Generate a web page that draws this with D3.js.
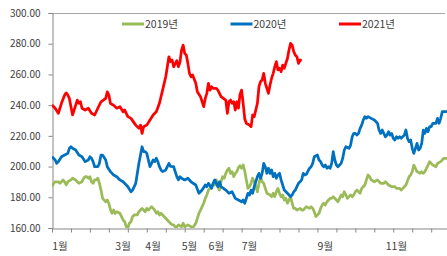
<!DOCTYPE html>
<html>
<head>
<meta charset="utf-8">
<script src="https://cdn.jsdelivr.net/npm/d3@7/dist/d3.min.js"></script>
<style>
  body { margin: 0; background: #fff; }
  svg text { font-family: "Noto Sans CJK KR", "Noto Sans", sans-serif; fill: #404040; }
</style>
</head>
<body>
<svg id="chart"></svg>
<script>
// trading-day index (0..250) and price values
let days2019 = [0,1,2,4,5,6,7,8,9,10,12,13,15,16,17,19,20,21,22,23,24,25,26,27,28,29,30,31,32,34,35,36,37,38,39,40,41,43,44,45,46,47,48,49,50,51,52,54,55,56,57,58,59,60,61,62,63,64,65,66,67,68,69,70,73,74,75,76,77,78,79,80,82,83,84,86,88,89,91,92,93,94,95,96,97,98,99,100,101,102,103,104,105,106,107,108,109,110,111,112,113,114,115,116,117,118,119,120,121,122,123,124,125,126,127,128,129,130,131,132,133,134,135,136,138,139,140,141,142,143,144,145,146,147,148,149,150,151,152,153,154,155,157,158,159,161,163,164,165,166,167,169,170,171,172,173,174,175,176,177,178,179,180,181,182,183,184,185,186,187,188,189,190,191,192,193,195,196,197,198,199,200,201,202,204,206,208,210,211,213,215,217,218,220,221,224,226,227,228,229,230,231,233,234,235,236,237,238,239,240,241,243,244,246,247,248,250];
let vals2019 = [186.9,189.1,190.1,190.1,189.1,190.1,191.3,190.1,188,190.1,191.3,192.4,191.3,190.1,189.1,190.1,192.4,193.4,193.4,192.4,193.4,190.1,189.1,191.3,191.3,192.4,189.1,184.7,179.3,177.1,178.2,176.1,172,169.6,171.7,169.5,170.6,169.6,167.4,165.2,164.1,160.8,160,163.1,164.1,167.4,168.5,168.5,170.6,171.7,172.8,171.7,170.6,172.8,171.7,172.8,173.9,172.8,171.7,169.6,170.6,168.5,169.6,168.5,165.2,164.1,163.1,162,162,160.8,160.8,162,160.8,163.1,160.8,162,160.8,160,163.1,166.3,169.6,171.7,173.9,176.1,179.3,181.5,184.7,185.8,186.9,189.1,188,191.3,186.9,184.7,190.1,193.4,192.4,195.6,197.8,198.9,195.6,196.7,193.4,195.6,196.7,199.4,200.5,198.9,201,197,191.3,185.8,186.9,189.1,192.4,190.1,186.9,183.6,189.1,193.4,190.1,189.1,185.8,182.6,181.5,180.4,182.6,180.4,183.6,185.8,182.6,180.4,181.5,178.2,179.3,176.1,178.2,180.4,176.1,172.8,172.8,171.7,172.8,171.7,171.7,173.9,172.8,173.9,172.8,170.6,167.4,169.6,172.8,175,176.1,175,177.1,178.2,179.3,179.3,180.4,179.3,178.2,177.1,179.3,181.5,180.4,183.6,181.5,179.3,180.4,181.5,180.4,181.5,183.6,184.7,182.6,185.8,186.9,188,191.3,194.5,193.4,191.3,190.1,191.3,189.1,189.1,190.1,188,186.9,186.9,185.8,185.8,184.7,188,193.4,194.5,196.7,201,198.9,196.7,195.6,196.7,195.6,196.7,198.9,201,203.2,202.1,201,199.9,202.1,203.2,204.3,205.4,205.4];

let days2020 = [0,2,3,4,6,8,10,11,12,13,15,17,19,21,23,24,25,26,27,29,30,31,32,34,35,37,39,41,43,45,47,48,50,51,53,54,55,56,57,58,59,60,62,63,64,65,66,67,68,69,70,72,74,75,77,79,80,81,82,84,86,88,91,93,95,97,98,99,101,102,103,105,106,107,110,112,114,116,118,120,121,122,123,124,125,126,127,128,130,131,132,133,134,135,136,137,138,139,140,141,142,143,144,145,146,147,149,150,151,152,153,154,155,156,157,158,159,160,161,162,163,164,165,166,168,169,170,171,172,173,174,175,176,177,178,179,180,181,182,183,184,185,186,188,189,190,191,192,193,194,195,196,197,198,199,200,202,204,206,207,208,209,210,211,212,213,214,215,216,217,218,219,220,221,223,224,225,226,227,228,229,230,231,232,233,234,235,236,237,238,239,240,241,243,244,245,246,247,249,250];
let vals2020 = [206.4,204.3,202.1,203.2,206.4,207.5,208.6,211.9,212.9,211.9,210.8,207.5,206.4,203.2,204.3,206.4,205.4,203.2,199.9,199.9,202.1,207.5,207.5,204.3,199.9,196.7,194.5,193.4,191.3,190.1,188,186.9,183.6,184.7,189.1,195.6,202.1,207.5,212.9,209.7,209.7,208.6,199.9,202.1,204.3,203.2,205.4,203.2,199.9,197.8,196.7,197.8,202.1,200.1,199.9,193.4,191.3,193.4,192.4,191.3,192.4,190.1,188,182.6,184.7,188,186.9,189.1,185.8,189.1,191.3,186.9,190.1,186.9,184.7,182.6,183.6,179.3,178.2,177.1,178.2,176.1,179.3,182.6,181.5,184.7,182.6,186.9,193.4,195.6,192.4,195.6,202.1,199.9,195.6,198.9,195.6,197.8,193.4,195.6,192.4,194.5,195.6,191.3,188,184.7,182.6,181.5,180.4,181.5,183.6,184.7,186.9,189.1,190.1,191.3,195.6,194.5,195,197,198.9,199.9,202.1,206.4,207.5,204.3,203.2,201,199.9,201,198.9,199.9,198.9,202.1,209.7,204.3,201,199.9,201,202.1,205.4,210.8,212.9,211.9,214,219.4,221.6,221.6,220.5,221.6,224.9,227,230.3,232.5,231.4,232.5,231.4,230.3,228.2,223.8,221.6,223.8,221.6,219.4,220.5,222.7,220.5,221.6,218.4,217.3,219.4,218.4,219.4,218.4,220.5,223.8,218.4,216.2,217.3,211.9,208.6,211.9,215.1,210.8,211.9,215.1,223.8,221.6,224.9,222.7,226,226,228.2,228.2,231.4,228.2,231.4,235.7,235.7,236];

let days2021 = [0,2,4,6,8,9,10,11,13,16,17,18,19,21,23,25,27,29,31,34,35,36,37,39,40,41,43,45,46,48,50,53,55,56,57,58,60,62,64,66,68,70,72,73,74,75,76,77,78,79,80,81,82,83,84,85,86,87,88,89,91,92,94,96,97,98,99,100,101,102,104,105,107,110,111,112,113,114,115,116,117,118,119,120,121,122,123,125,126,127,128,130,131,132,133,134,135,136,137,138,139,140,141,142,143,144,145,146,147,149,150,151,152,153,154,155,156,157,158];
let vals2021 = [240.1,238,234.7,241.2,246.6,248,246.6,244.4,233.6,243.3,241.2,242.2,238,236.8,238,234.7,233.6,238,242.2,244.4,248.7,246.6,241,240,239,238,239,235.7,236.8,232.5,231.4,227,224.9,227,221.6,226,227,230.3,233.6,235.7,241.2,249.8,258.5,265,271.5,268.3,269.4,265,267,269,265,268,276,279.1,273.7,272.6,267.2,260.7,258.5,259.6,254.2,248.7,245.5,239,244.4,247.7,254.2,249.8,252,250.9,250.9,249.8,245.5,243.3,234.7,242.2,243.3,241.2,242.2,236.8,242.2,238,247,249.8,241,231,228.2,227,226,233.6,232.5,241.2,252,255.3,256.4,260.7,254.2,250.9,247.7,253.1,257.5,260.7,265,268.3,262.9,264,261.8,266.1,264,270.4,275.9,280.2,279.1,274.8,272.6,271.5,267.2,269.4,268.8];

let seriesNames = ["2019년", "2020년", "2021년"];
let seriesColors = ["#9bbb59", "#0070c0", "#ff0000"];
let yTicks = [160, 180, 200, 220, 240, 260, 280, 300];
let monthLabels = ["1월", "3월", "4월", "5월", "6월", "7월", "9월", "11월"];
let monthDays = [5, 45, 64, 87, 104, 125, 173, 218];

let w = 447, h = 256;
let padL = 52, padR = 447, padT = 13, padB = 228;

let svg = d3.select('#chart')
    .attr('width', w)
    .attr('height', h);

let x = d3.scaleLinear().domain([0, 250]).range([padL, padR]);
let y = d3.scaleLinear().domain([160, 300]).range([padB, padT]);

// plot area top border
svg.append('line')
    .attr('x1', padL).attr('x2', padR - 2)
    .attr('y1', y(300) + 0.5).attr('y2', y(300) + 0.5)
    .attr('stroke', '#a6a6a6');

let yAxis = svg.append('g')
    .attr('transform', `translate(${padL + 0.5},0)`)
    .call(d3.axisLeft(y).tickValues(yTicks).tickFormat(d3.format('.2f')).tickSize(4).tickPadding(8));
yAxis.selectAll('line, path').attr('stroke', '#868686');
yAxis.selectAll('text').style('font-size', '10px').attr('fill', '#404040');

let xAxis = svg.append('g')
    .attr('transform', `translate(0,${padB + 0.5})`)
    .call(d3.axisBottom(x).tickValues(d3.range(0, 251, 12)).tickFormat('').tickSize(4).tickSizeOuter(0));
xAxis.selectAll('line, path').attr('stroke', '#868686');

svg.selectAll('text.month')
    .data(monthLabels)
    .enter()
    .append('text')
    .attr('class', 'month')
    .attr('x', (d, i) => x(monthDays[i]))
    .attr('y', 250)
    .attr('text-anchor', 'middle')
    .style('font-size', '10.5px')
    .text(d => d);

svg.append('clipPath').attr('id', 'plotclip')
    .append('rect')
    .attr('x', padL).attr('y', padT).attr('width', padR - padL).attr('height', padB - padT);

let allDays = [days2019, days2020, days2021];
let allVals = [vals2019, vals2020, vals2021];

let line = d3.line()
    .x(d => x(d[0]))
    .y(d => y(d[1]));

allDays.forEach((ds, i) => {
    let pts = ds.map((d, j) => [d, allVals[i][j]]);
    svg.append('path')
        .datum(pts)
        .attr('clip-path', 'url(#plotclip)')
        .attr('fill', 'none')
        .attr('stroke', seriesColors[i])
        .attr('stroke-width', 2.75)
        .attr('stroke-linejoin', 'round')
        .attr('d', line);
});

// legend
let legend = svg.selectAll('g.leg')
    .data(seriesNames)
    .enter()
    .append('g')
    .attr('transform', (d, i) => `translate(${122 + i * 108.5},24)`);

legend.append('line')
    .attr('x1', 0).attr('x2', 22)
    .attr('stroke', (d, i) => seriesColors[i])
    .attr('stroke-width', 3);

legend.append('text')
    .attr('x', 23)
    .attr('dy', '0.36em')
    .style('font-size', '10.5px')
    .text(d => d);
</script>
</body>
</html>
